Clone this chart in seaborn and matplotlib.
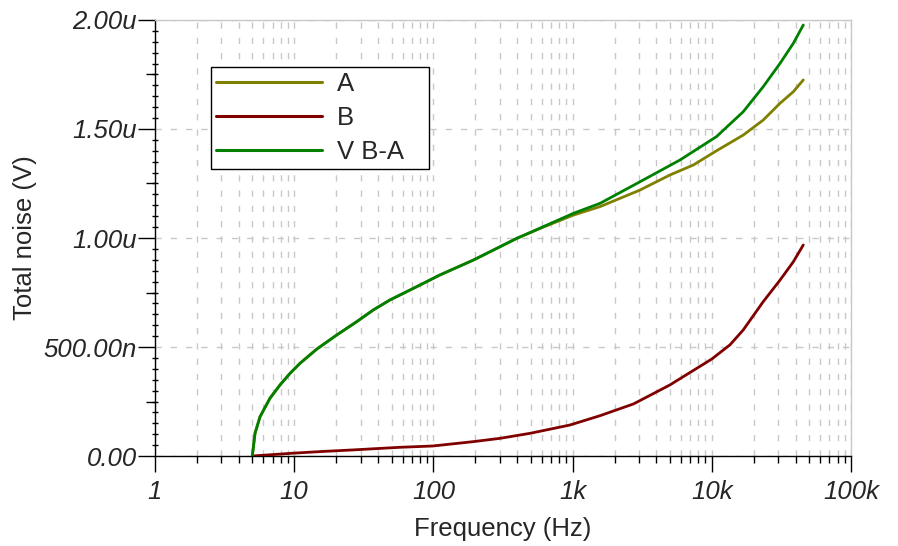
import numpy as np
import pandas as pd
import matplotlib
matplotlib.use("Agg")
import matplotlib.pyplot as plt
import seaborn as sns

# values (frequency in Hz, noise in uV)
freq_a = [5.0, 5.23, 5.68, 6.70, 7.91, 9.33, 11.0, 14.5, 20.2, 28.1, 37.0, 48.8,
          71.8, 111, 194, 396, 616, 1012, 1574, 3049, 5000, 7370, 10800, 16800,
          23400, 30900, 38500, 45400]
val_a = [0.0, 0.104, 0.18, 0.265, 0.326, 0.379, 0.425, 0.490, 0.555, 0.616, 0.670,
         0.716, 0.769, 0.830, 0.899, 0.998, 1.050, 1.105, 1.144, 1.220, 1.289,
         1.335, 1.400, 1.472, 1.541, 1.618, 1.671, 1.725]

freq_b = [5.0, 9.8, 16.1, 26.5, 57.5, 99, 194, 300, 494, 954, 1574, 2740, 5000,
          10000, 13500, 16800, 23400, 30900, 38500, 45400]
val_b = [0.0, 0.013, 0.021, 0.028, 0.040, 0.046, 0.066, 0.081, 0.104, 0.142,
         0.185, 0.239, 0.326, 0.445, 0.510, 0.578, 0.708, 0.807, 0.891, 0.968]

freq_v = [5.0, 5.23, 5.68, 6.70, 7.91, 9.33, 11.0, 14.5, 20.2, 28.1, 37.0, 48.8,
          71.8, 111, 194, 396, 616, 1012, 1574, 3049, 5912, 10800, 16800, 23400,
          30900, 38500, 45400]
val_v = [0.0, 0.104, 0.18, 0.265, 0.326, 0.379, 0.425, 0.490, 0.555, 0.616, 0.670,
         0.716, 0.769, 0.830, 0.899, 0.998, 1.052, 1.113, 1.159, 1.258, 1.358,
         1.465, 1.579, 1.694, 1.801, 1.893, 1.977]

series_names = ["A", "B", "V B-A"]
series_colors = ["#808000", "#800000", "#008000"]

x_ticks = [1, 10, 100, 1e3, 1e4, 1e5]
x_labels = ["1", "10", "100", "1k", "10k", "100k"]
y_ticks = [0.0, 0.5, 1.0, 1.5, 2.0]
y_labels = ["0.00", "500.00n", "1.00u", "1.50u", "2.00u"]

sns.set_style("white")
plt.rcParams["font.family"] = ["Liberation Sans", "DejaVu Sans"]
fs = 18.5

fig = plt.figure(figsize=(8.98, 5.46), dpi=100)
ax = fig.add_axes([0.1726, 0.1648, 0.7751, 0.7986])

frames = [
    pd.DataFrame({"f": freq_a, "v": val_a}),
    pd.DataFrame({"f": freq_b, "v": val_b}),
    pd.DataFrame({"f": freq_v, "v": val_v}),
]
for df, name, col in zip(frames, series_names, series_colors):
    sns.lineplot(data=df, x="f", y="v", color=col, label=name, linewidth=2.0,
                 ax=ax, zorder=3)

ax.set_xscale("log")
ax.set_xlim(1, 1e5)
ax.set_ylim(0, 2.0)

ax.set_xticks(x_ticks)
ax.set_xticklabels(x_labels, fontsize=fs, fontstyle="italic")
ax.set_xticks([m * d for d in [1, 10, 100, 1e3, 1e4] for m in range(2, 10)], minor=True)
ax.set_yticks(y_ticks)
ax.set_yticklabels(y_labels, fontsize=fs, fontstyle="italic")
ax.set_yticks(np.arange(0, 2.001, 0.05), minor=True)

ax.tick_params(axis="x", which="major", direction="out", length=11.5, width=1,
               color="black", pad=6, bottom=True)
ax.tick_params(axis="x", which="minor", direction="out", length=5, width=1,
               color="black", bottom=True, labelbottom=False)
ax.tick_params(axis="y", which="major", direction="out", length=12, width=1,
               color="black", pad=1, left=True)
ax.tick_params(axis="y", which="minor", direction="inout", length=4, width=1,
               color="black", left=True)

# medium ticks at the quarter marks
sec = ax.secondary_yaxis("left")
sec.set_yticks([0.25, 0.75, 1.25, 1.75])
sec.tick_params(length=6.5, width=1, color="black", labelleft=False)
sec.spines["left"].set_visible(False)

grid_style = dict(color="#c8c8c8", linewidth=1.0, linestyle=(0, (4.5, 6.5)))
ax.grid(True, axis="x", which="both", **grid_style)
ax.grid(True, axis="y", which="major", **grid_style)

for side in ["top", "right"]:
    ax.spines[side].set_color("#c8c8c8")
    ax.spines[side].set_linewidth(1.0)
for side in ["left", "bottom"]:
    ax.spines[side].set_color("black")
    ax.spines[side].set_linewidth(1.0)

ax.set_xlabel("Frequency (Hz)", fontsize=fs, labelpad=9)
ax.set_ylabel("Total noise (V)", fontsize=fs, labelpad=5)

leg = ax.legend(loc="upper left", bbox_to_anchor=(0.0805, 0.661, 0.3135, 0.231),
                mode="expand", fontsize=fs, frameon=True, fancybox=False,
                framealpha=1, edgecolor="black", handlelength=4.1,
                handletextpad=0.6, labelspacing=0.38, borderpad=0.2,
                borderaxespad=0)
leg.get_frame().set_linewidth(1.0)
for line in leg.get_lines():
    line.set_linewidth(2.2)

fig.savefig("out.png", dpi=100)
